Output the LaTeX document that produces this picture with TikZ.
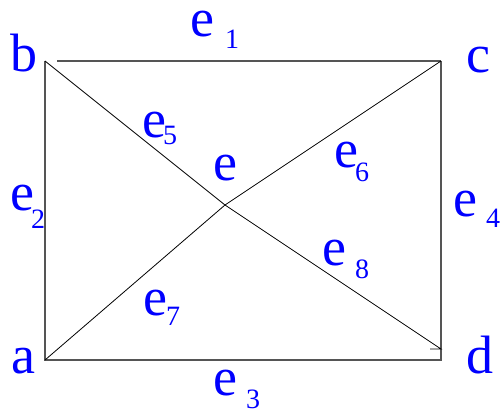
\documentclass[tikz,border=0pt]{standalone}
\usepackage{fontspec}
\setmainfont{Liberation Serif}
\usetikzlibrary{positioning}
\definecolor{labblue}{RGB}{0,0,255}
\definecolor{edgegray}{RGB}{85,85,85}
\newcommand{\subsz}{\fontsize{28}{28}\selectfont}
\newcommand{\elab}[3]{e\hspace*{#1pt}\raisebox{-#2pt}{\subsz #3}}
\tikzset{
  lab/.style={anchor=base west, inner sep=0pt, text=labblue, font=\fontsize{54}{54}\selectfont},
  side/.style={draw=edgegray, line width=1.2pt},
  diag/.style={draw=black, line width=0.8pt},
}
\begin{document}
\begin{tikzpicture}[x=1pt,y=-1pt]
    \useasboundingbox (0,0) rectangle (502,411);
    % corners
    \coordinate (b) at (45,61);
    \coordinate (c) at (441,61);
    \coordinate (a) at (45,360);
    \coordinate (d) at (441,360);
    \coordinate (dt) at (441,349);
    \coordinate (tk) at (430,349);
    \coordinate (x) at (225,205);
    % rectangle
    \draw[side, shorten >=12pt] (c) -- (b);
    \draw[side] (b) -- (a) -- (d) -- (c);
    % diagonals, meeting at e
    \draw[diag] (a) -- (x) -- (c);
    \draw[diag] (b) -- (x) -- (dt) -- (tk);
    % vertex labels
    \node[lab] (lb) at (10,72) {b};
    \node[lab] (lc) at (466,73) {c};
    \node[lab] (la) at (11,373) {a};
    \node[lab] (ld) at (466,373) {d};
    \node[lab] (le) at (213,181) {e};
    % edge labels
    \node[lab] (l1) at (190,37) {\elab{11}{12}{1}};
    \node[lab] (l2) at (10,211) {\elab{-3}{18}{2}};
    \node[lab] (l3) at (213,395) {\elab{9}{13}{3}};
    \node[lab] (l4) at (453,217) {\elab{9}{10}{4}};
    \node[lab] (l5) at (142,138) {\elab{-3}{7}{5}};
    \node[lab] (l6) at (334,168) {\elab{-3}{14}{6}};
    \node[lab] (l7) at (143,315) {\elab{-1}{10}{7}};
    \node[lab] (l8) at (322,265) {\elab{9}{13}{8}};
  \end{tikzpicture}
\end{document}
